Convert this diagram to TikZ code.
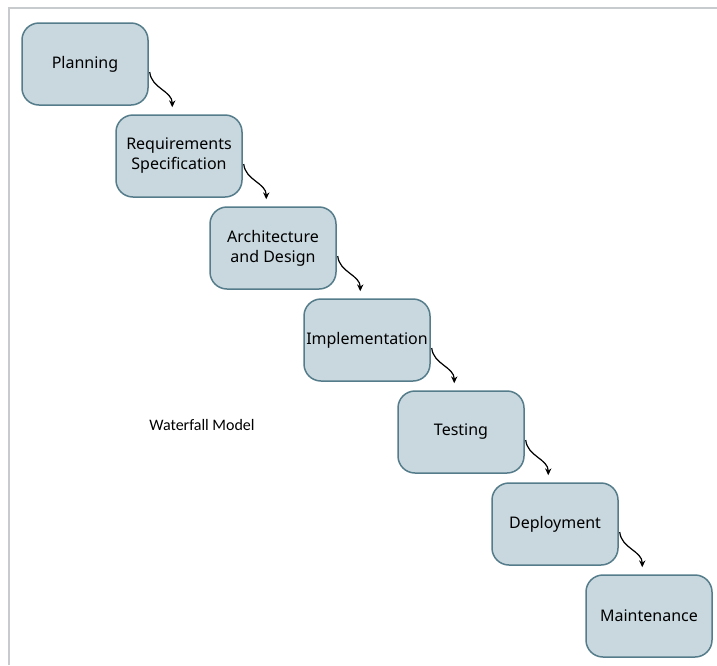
\documentclass[tikz,border=0pt]{standalone}
\usepackage{fontspec}
\setmainfont{Noto Sans}
\newfontfamily\captionfont{Carlito}
\usetikzlibrary{arrows.meta,positioning,calc}
\definecolor{phasefill}{HTML}{C9D8DF}
\definecolor{phaseline}{HTML}{557C8A}
\definecolor{framegray}{HTML}{C8CBCE}

\begin{document}
\begin{tikzpicture}[x=1pt, y=-1pt,
  phase/.style={rectangle, draw=phaseline, line width=1.5pt, fill=phasefill, minimum width=126pt, minimum height=82pt, align=center, font=\fontsize{16}{20}\selectfont, rounded corners=17pt, inner sep=2pt},
  arr/.style={-{Stealth[length=2.4mm, width=2.2mm]}, line width=1.2pt, black}
]
  \useasboundingbox (0,0) rectangle (717,665);
  % frame
  \draw[framegray, line width=2pt] (9,665) -- (9,8) -- (717,8);

  \node[phase] (p1) at (85,64) {Planning};
  \node[phase] (p2) at (179,156) {Requirements\\Specification};
  \node[phase] (p3) at (273,248) {Architecture\\and Design};
  \node[phase] (p4) at (367,340) {Implementation};
  \node[phase] (p5) at (461,432) {Testing};
  \node[phase] (p6) at (555,524) {Deployment};
  \node[phase] (p7) at (649,616) {Maintenance};

  \node[font=\captionfont\fontsize{16}{18}\selectfont] (title) at (202,425) {Waterfall Model};

  \draw[arr] ([xshift=1pt,yshift=-8pt]p1.east) to[out=-85,in=90] ([xshift=57pt,yshift=7pt]p2.north west);
  \draw[arr] ([xshift=1pt,yshift=-8pt]p2.east) to[out=-85,in=90] ([xshift=57pt,yshift=7pt]p3.north west);
  \draw[arr] ([xshift=1pt,yshift=-8pt]p3.east) to[out=-85,in=90] ([xshift=57pt,yshift=7pt]p4.north west);
  \draw[arr] ([xshift=1pt,yshift=-8pt]p4.east) to[out=-85,in=90] ([xshift=57pt,yshift=7pt]p5.north west);
  \draw[arr] ([xshift=1pt,yshift=-8pt]p5.east) to[out=-85,in=90] ([xshift=57pt,yshift=7pt]p6.north west);
  \draw[arr] ([xshift=1pt,yshift=-8pt]p6.east) to[out=-85,in=90] ([xshift=57pt,yshift=7pt]p7.north west);
\end{tikzpicture}
\end{document}
